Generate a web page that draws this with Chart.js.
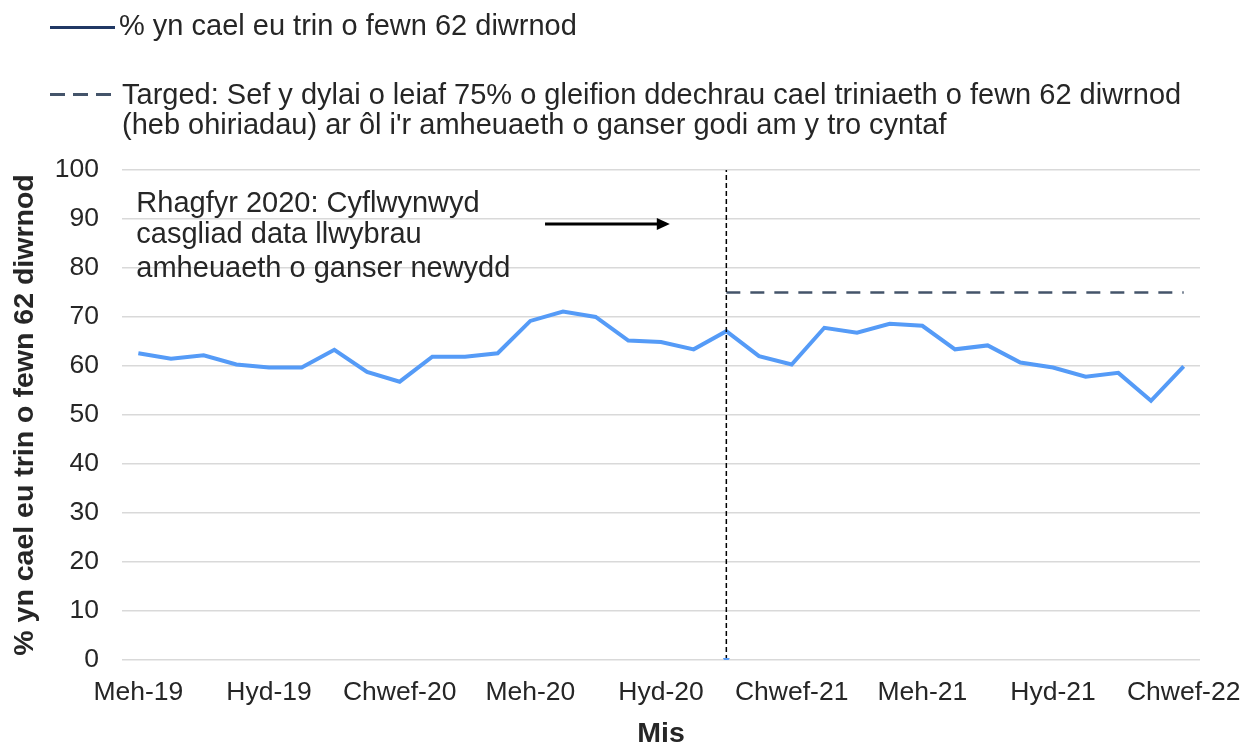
<!DOCTYPE html>
<html>
<head>
<meta charset="utf-8">
<script src="https://cdn.jsdelivr.net/npm/chart.js@4"></script>
<style>
  html, body { margin: 0; padding: 0; background: #fff; }
  #wrap { position: relative; width: 1252px; height: 746px; overflow: hidden; }
  #chart { position: absolute; left: 0; top: 0; }
  .leg-text { position: absolute; font: 29px "Liberation Sans", Arial, sans-serif; line-height: 30px; color: #262626; white-space: nowrap; }
  .leg-line { position: absolute; height: 3px; }
</style>
</head>
<body>
<div id="wrap">
  <canvas id="chart" width="1252" height="746"></canvas>
  <div class="leg-line" style="left:50px; top:26px; width:65px; background:#203864;"></div>
  <div class="leg-text" style="left:119px; top:10px;">% yn cael eu trin o fewn 62 diwrnod</div>
  <div class="leg-line" style="left:50px; top:93px; width:62px; background:repeating-linear-gradient(to right, #44546A 0 15px, transparent 15px 23px);"></div>
  <div class="leg-text" style="left:122px; top:79px;">Targed: Sef y dylai o leiaf 75% o gleifion ddechrau cael triniaeth o fewn 62 diwrnod<br>(heb ohiriadau) ar ôl i'r amheuaeth o ganser godi am y tro cyntaf</div>
</div>
<script>
/* ── Data ───────────────────────────────────────────────── */

const months = [
  'Meh-19', 'Gorff-19', 'Awst-19', 'Medi-19', 'Hyd-19', 'Tach-19', 'Rhag-19',
  'Ion-20', 'Chwef-20', 'Maw-20', 'Ebr-20', 'Mai-20', 'Meh-20', 'Gorff-20',
  'Awst-20', 'Medi-20', 'Hyd-20', 'Tach-20', 'Rhag-20', 'Ion-21', 'Chwef-21',
  'Maw-21', 'Ebr-21', 'Mai-21', 'Meh-21', 'Gorff-21', 'Awst-21', 'Medi-21',
  'Hyd-21', 'Tach-21', 'Rhag-21', 'Ion-22', 'Chwef-22'
];

const pctTreated = [
  62.6, 61.5, 62.2, 60.3, 59.7, 59.7, 63.3, 58.8, 56.8, 61.9, 61.9,
  62.6, 69.2, 71.1, 70.0, 65.2, 64.9, 63.4, 67.1, 62.0, 60.3, 67.8,
  66.8, 68.6, 68.2, 63.4, 64.2, 60.7, 59.7, 57.8, 58.6, 52.9, 59.9
];

const target = [
  null, null, null, null, null, null, null, null, null, null, null,
  null, null, null, null, null, null, null, 75, 75, 75, 75,
  75, 75, 75, 75, 75, 75, 75, 75, 75, 75, 75
];

const changeMonth = 'Rhag-20';
const changeRange = [0, 100];
const yTicks = [0, 10, 20, 30, 40, 50, 60, 70, 80, 90, 100];

const noteLines = [
  'Rhagfyr 2020: Cyflwynwyd',
  'casgliad data llwybrau',
  'amheuaeth o ganser newydd'
];

/* ── Annotation plugin (text + arrow) ───────────────────── */

const notePlugin = {
  id: 'note',
  afterDatasetsDraw(chart) {
    const { ctx, scales: { x, y } } = chart;
    ctx.save();
    ctx.fillStyle = '#262626';
    ctx.font = '29px "Liberation Sans", Arial, sans-serif';
    ctx.textBaseline = 'alphabetic';
    const left = x.getPixelForValue(0) - 2;
    const baseVals = [91.4, 85.1, 78.2];
    noteLines.forEach((t, i) => ctx.fillText(t, left, y.getPixelForValue(baseVals[i])));

    // arrow
    const ay = y.getPixelForValue(89);
    const ax0 = x.getPixelForValue(12.45);
    const ax1 = x.getPixelForValue(16.27);
    ctx.strokeStyle = '#000';
    ctx.fillStyle = '#000';
    ctx.lineWidth = 3;
    ctx.beginPath();
    ctx.moveTo(ax0, ay);
    ctx.lineTo(ax1 - 10, ay);
    ctx.stroke();
    ctx.beginPath();
    ctx.moveTo(ax1, ay);
    ctx.lineTo(ax1 - 13, ay - 6);
    ctx.lineTo(ax1 - 13, ay + 6);
    ctx.closePath();
    ctx.fill();
    ctx.restore();
  }
};

/* ── Chart ──────────────────────────────────────────────── */

Chart.defaults.font.family = '"Liberation Sans", Arial, sans-serif';
Chart.defaults.color = '#262626';

new Chart(document.getElementById('chart').getContext('2d'), {
  type: 'line',
  data: {
    labels: months,
    datasets: [
      {
        label: 'change',
        data: changeRange.map(v => ({ x: changeMonth, y: v })),
        borderColor: '#000',
        borderWidth: 1.5,
        borderDash: [5, 3],
        pointRadius: [4, 0],
        pointStyle: 'triangle',
        rotation: 180,
        pointBackgroundColor: '#559BF7',
        pointBorderWidth: 0,
        fill: false,
        order: 0,
      },
      {
        label: 'target',
        data: target,
        borderColor: '#44546A',
        borderWidth: 2.5,
        borderDash: [14, 10],
        pointRadius: 0,
        fill: false,
        order: 2,
      },
      {
        label: '% yn cael eu trin o fewn 62 diwrnod',
        data: pctTreated,
        borderColor: '#559BF7',
        borderWidth: 4,
        pointRadius: 0,
        tension: 0,
        fill: false,
        order: 1,
      },
    ],
  },
  options: {
    responsive: false,
    animation: false,
    devicePixelRatio: 1,
    layout: { padding: { top: 170, right: 52, bottom: 0, left: 0 } },
    plugins: {
      legend: { display: false },
      tooltip: { enabled: false },
    },
    scales: {
      x: {
        offset: true,
        grid: { display: false, drawTicks: false },
        border: { display: false },
        ticks: {
          autoSkip: false,
          maxRotation: 0,
          padding: 17,
          font: { size: 26.5 },
          callback: (v, i) => (i % 4 === 0 ? months[i] : ''),
        },
        title: {
          display: true,
          text: 'Mis',
          font: { size: 28.5, weight: 'bold', lineHeight: 0.8 },
          padding: 0,
        },
        afterFit: (scale) => {
          scale.height = 86;
          scale.paddingLeft = 0;
          scale.paddingRight = 0;
        },
      },
      y: {
        min: 0,
        max: 100,
        afterBuildTicks: (scale) => { scale.ticks = yTicks.map(v => ({ value: v })); },
        grid: { color: '#d9d9d9', lineWidth: 1.5, drawTicks: false },
        border: { display: false },
        ticks: { padding: 23, font: { size: 26.5 } },
        title: {
          display: true,
          text: '% yn cael eu trin o fewn 62 diwrnod',
          font: { size: 28.5, weight: 'bold', lineHeight: 1.2 },
          padding: { top: 8, bottom: 0 },
        },
        afterFit: (scale) => {
          scale.width = 122;
          scale.paddingTop = 0;
          scale.paddingBottom = 0;
        },
      },
    },
  },
  plugins: [notePlugin],
});
</script>
</body>
</html>
